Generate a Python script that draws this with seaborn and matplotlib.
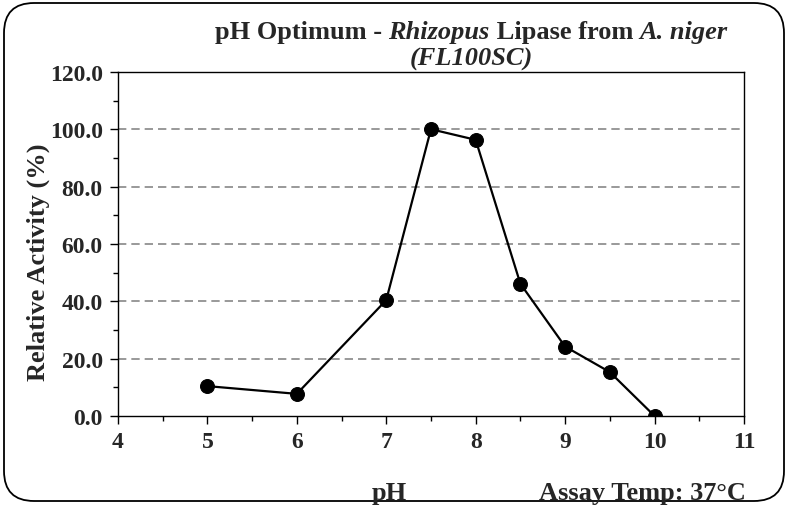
import matplotlib
matplotlib.use("Agg")
import matplotlib.pyplot as plt
from matplotlib.patches import FancyBboxPatch
from matplotlib.ticker import MultipleLocator, FormatStrFormatter
from matplotlib.offsetbox import TextArea, HPacker, AnchoredOffsetbox
import pandas as pd
import seaborn as sns

# Данные
ph_values = [5, 6, 7, 7.5, 8, 8.5, 9, 9.5, 10]
activity = [10.4, 7.7, 40.4, 100.0, 96.3, 46.1, 24.2, 15.3, 0.0]

sns.set_style("white")
plt.rcParams['font.family'] = ['Liberation Serif', 'DejaVu Serif']
plt.rcParams['font.weight'] = 'bold'

df = pd.DataFrame({"pH": ph_values, "activity": activity})

fig = plt.figure(figsize=(7.88, 5.06), dpi=100)
ax = fig.add_axes([0.1497, 0.176, 0.7944, 0.680])

sns.lineplot(data=df, x="pH", y="activity", ax=ax, color="black", linewidth=1.6,
             marker="o", markersize=10, markeredgecolor="black", markerfacecolor="black")

ax.set_xlim(4, 11)
ax.set_ylim(0, 120)
ax.xaxis.set_major_locator(MultipleLocator(1))
ax.xaxis.set_minor_locator(MultipleLocator(0.5))
ax.yaxis.set_major_locator(MultipleLocator(20))
ax.yaxis.set_minor_locator(MultipleLocator(10))
ax.yaxis.set_major_formatter(FormatStrFormatter("%.1f"))

for y in [20, 40, 60, 80, 100]:
    ax.axhline(y, color="#888888", linestyle=(0, (5, 3)), linewidth=1.2, zorder=0)

for s in ax.spines.values():
    s.set_color("black")
    s.set_linewidth(1.0)

ax.tick_params(axis="both", which="major", direction="out", length=6, width=1.0,
               labelsize=17, color="black", bottom=True, left=True, pad=5)
ax.tick_params(axis="both", which="minor", direction="out", length=3.5, width=1.0,
               color="black", bottom=True, left=True)
for lbl in ax.get_xticklabels() + ax.get_yticklabels():
    lbl.set_fontweight("bold")

ax.set_xlabel("")
ax.set_ylabel("Relative Activity (%)", fontsize=19, fontweight="bold")
ax.yaxis.set_label_coords(-0.108, 0.45)

# Заголовок: обычный и курсивный текст вперемешку
title_parts = [("pH Optimum - ", "normal"), ("Rhizopus", "italic"),
               (" Lipase from ", "normal"), ("A. niger", "italic")]
areas = [TextArea(t, textprops=dict(fontsize=19, fontweight="bold", fontstyle=st))
         for t, st in title_parts]
title_box = AnchoredOffsetbox(loc="center", child=HPacker(children=areas, pad=0, sep=0),
                              bbox_to_anchor=(0.598, 0.935), bbox_transform=fig.transFigure,
                              frameon=False, pad=0, borderpad=0)
fig.add_artist(title_box)
fig.text(0.598, 0.882, "(FL100SC)", ha="center", va="center", fontsize=19,
         fontweight="bold", fontstyle="italic")

fig.text(0.494, 0.024, "pH", ha="center", va="center", fontsize=19, fontweight="bold")
fig.text(0.946, 0.024, "Assay Temp: 37°C", ha="right", va="center", fontsize=19, fontweight="bold")

box = FancyBboxPatch((0.04, 0.04), 7.80, 4.98, boxstyle="round,pad=0,rounding_size=0.3",
                     transform=fig.dpi_scale_trans, fill=False, edgecolor="black", linewidth=1.3)
fig.patches.append(box)

fig.savefig("out.png", dpi=100)
